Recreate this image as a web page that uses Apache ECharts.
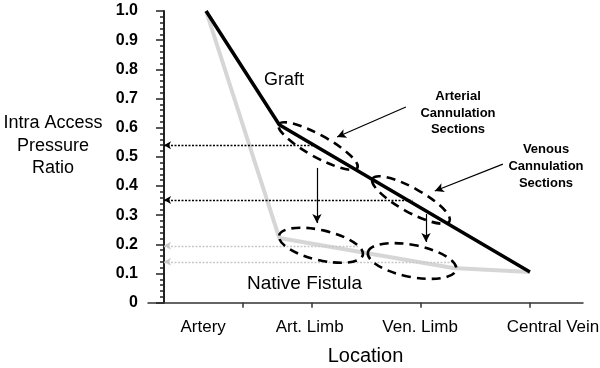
<!DOCTYPE html>
<html><head><meta charset="utf-8">
<script src="https://cdn.jsdelivr.net/npm/echarts@6/dist/echarts.min.js"></script>
<style>html,body{margin:0;padding:0;background:#fff}#c{width:600px;height:368px}</style>
</head><body><div id="c"></div>
<script>
// ---- data ----
const locationLabels = ['Artery', 'Art. Limb', 'Ven. Limb', 'Central Vein'];
const labelPositions = [10.7, 39.8, 70.0, 106.3];
const tickPositions = [21.6, 40.4, 70.2, 100];
const yTickLabels = ['0', '0.1', '0.2', '0.3', '0.4', '0.5', '0.6', '0.7', '0.8', '0.9', '1.0'];
const graftX = [11.5, 31.5, 100];
const graftY = [1.0, 0.61, 0.105];
const fistulaX = [11.5, 31.5, 79, 100];
const fistulaY = [1.0, 0.222, 0.119, 0.105];
// dotted read-off lines (value, end x)
const graftReadY = [0.54, 0.352];
const graftReadEnd = [41.3, 68.0];
const fistulaReadY = [0.195, 0.14];
const fistulaReadEnd = [53, 79];
// cannulation-section ellipse centres
const ellipseX = [42.1, 67.5, 42.9, 67.8];
const ellipseY = [0.537, 0.352, 0.197, 0.143];
// annotation arrows
const arrowFrom = [[66.1, 0.671], [92.6, 0.475], [41.8, 0.462], [71.6, 0.304]];
const arrowTo = [[47.3, 0.568], [74.0, 0.383], [41.8, 0.273], [71.6, 0.208]];

// ---- styles ----
const ellipseShapes = [[45, 11, 29], [44, 12, 29], [43, 15, 13], [45, 16, 11]];
const FONT = 'Arial, "Liberation Sans", sans-serif';

const chart = echarts.init(document.getElementById('c'), null, {renderer: 'canvas'});
const zip = (xs, ys) => xs.map((x, i) => [x, ys[i]]);

chart.setOption({
  animation: false,
  backgroundColor: '#fff',
  grid: {left: 148, right: 17, top: 11, bottom: 65.3, containLabel: false, outerBoundsMode: 'none'},
  xAxis: {
    type: 'value', min: -4.37, max: 114.5,
    name: 'Location', nameLocation: 'middle', nameGap: 44,
    nameTextStyle: {fontFamily: FONT, fontSize: 20, color: '#000'},
    axisLine: {onZero: true, lineStyle: {color: '#333', width: 1.5}},
    axisTick: {show: true, length: 5, customValues: tickPositions, lineStyle: {color: '#333', width: 1.5}},
    axisLabel: {
      customValues: labelPositions, margin: 16,
      fontFamily: FONT, fontSize: 17, color: '#000',
      formatter: v => {
        let best = 0;
        labelPositions.forEach((p, i) => { if (Math.abs(p - v) < Math.abs(labelPositions[best] - v)) best = i; });
        return locationLabels[best];
      }
    },
    splitLine: {show: false}
  },
  yAxis: {
    type: 'value', min: 0, max: 1, interval: 0.1,
    axisLine: {onZero: true, lineStyle: {color: '#222', width: 2}},
    axisTick: {show: true, length: 8, lineStyle: {color: '#222', width: 1.5}},
    minorTick: {show: true, splitNumber: 5, length: 4, lineStyle: {color: '#222', width: 1.5}},
    axisLabel: {
      margin: 10, fontFamily: FONT, fontSize: 16, fontWeight: 'bold', color: '#000',
      formatter: v => yTickLabels[Math.round(v * 10)]
    },
    splitLine: {show: false}
  },
  series: [
    {
      type: 'line', name: 'Native Fistula', data: zip(fistulaX, fistulaY),
      symbol: 'none', lineStyle: {color: '#d6d6d6', width: 4}, z: 2
    },
    {
      type: 'line', name: 'Graft', data: zip(graftX, graftY),
      symbol: 'none', lineStyle: {color: '#000', width: 3.5}, z: 3
    },
    {
      type: 'line', name: 'read-off', data: [], z: 1,
      markLine: {
        silent: true, symbol: ['arrow', 'none'], symbolSize: [6, 7],
        label: {show: false},
        data: graftReadY.map((y, i) => [{coord: [0, y], lineStyle: {color: '#000', type: [2, 1.5], width: 1.3}}, {coord: [graftReadEnd[i], y]}])
          .concat(fistulaReadY.map((y, i) => [{coord: [0, y], lineStyle: {color: '#c8c8c8', type: [2, 1.5], width: 1.3}}, {coord: [fistulaReadEnd[i], y]}]))
      }
    },
    {
      type: 'line', name: 'arrows', data: [], z: 5,
      markLine: {
        silent: true, symbol: ['none', 'arrow'], symbolSize: [7, 9],
        label: {show: false},
        lineStyle: {color: '#000', type: 'solid', width: 1.2},
        data: arrowFrom.map((p, i) => [{coord: p}, {coord: arrowTo[i]}])
      }
    },
    {
      type: 'custom', name: 'sections', z: 6, silent: true,
      data: zip(ellipseX, ellipseY),
      encode: {x: 0, y: 1},
      renderItem: (params, api) => {
        const c = api.coord([api.value(0), api.value(1)]);
        const s = ellipseShapes[params.dataIndex];
        return {
          type: 'ellipse', x: c[0], y: c[1], rotation: -s[2] * Math.PI / 180,
          shape: {cx: 0, cy: 0, rx: s[0], ry: s[1]},
          style: {fill: null, stroke: '#000', lineWidth: 2.6, lineDash: [9, 6]}
        };
      }
    }
  ],
  graphic: [
    {type: 'text', x: 53, y: 146, style: {text: 'Intra Access\nPressure\nRatio', font: '18px ' + FONT, lineHeight: 22.5, fill: '#000', align: 'center', verticalAlign: 'middle', textAlign: 'center', textVerticalAlign: 'middle'}},
    {type: 'text', x: 284, y: 80, style: {text: 'Graft', font: '18px ' + FONT, fill: '#000', align: 'center', verticalAlign: 'middle', textAlign: 'center', textVerticalAlign: 'middle'}},
    {type: 'text', x: 247, y: 284, style: {text: 'Native Fistula', font: '19px ' + FONT, fill: '#000', align: 'left', verticalAlign: 'middle', textAlign: 'left', textVerticalAlign: 'middle'}},
    {type: 'text', x: 458, y: 113, style: {text: 'Arterial\nCannulation\nSections', font: 'bold 13px ' + FONT, lineHeight: 16.3, fill: '#000', align: 'center', verticalAlign: 'middle', textAlign: 'center', textVerticalAlign: 'middle'}},
    {type: 'text', x: 546, y: 166, style: {text: 'Venous\nCannulation\nSections', font: 'bold 13px ' + FONT, lineHeight: 17, fill: '#000', align: 'center', verticalAlign: 'middle', textAlign: 'center', textVerticalAlign: 'middle'}}
  ]
});
</script>
</body></html>
